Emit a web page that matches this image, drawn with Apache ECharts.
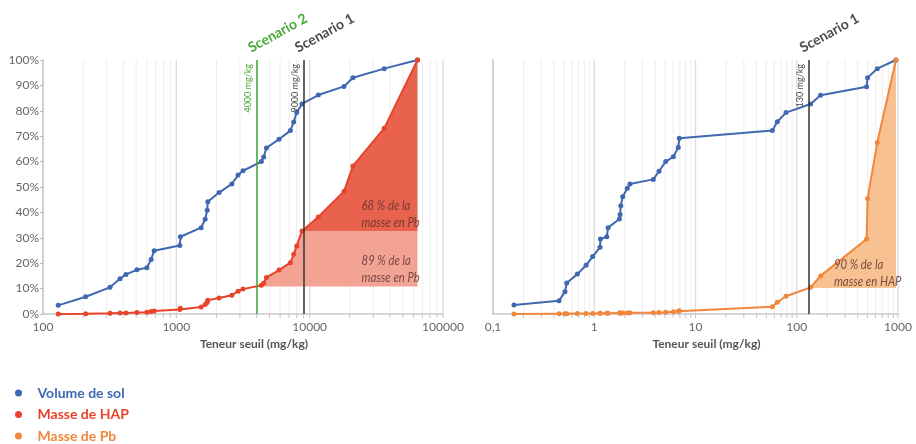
<!DOCTYPE html>
<html><head><meta charset="utf-8">
<script src="https://cdn.jsdelivr.net/npm/echarts@6/dist/echarts.min.js"></script>
<style>html,body{margin:0;padding:0;background:#fff}#c{width:916px;height:444px}</style>
</head><body><div id="c"></div>
<script>
// ---- Data ----
// Left chart: threshold (mg/kg) vs cumulative share
const leftX   = [130,209,318,378,419,506,601,647,682,1062,1073,1535,1645,1703,1722,2093,2608,2905,3165,4343,4520,4740,5893,7167,7590,7995,8756,11610,18080,21110,36200,64400];
const leftVol = [3.4,6.8,10.5,13.9,15.6,17.4,18.2,21.5,24.9,27.0,30.4,34.0,37.3,40.8,44.2,47.8,51.2,54.7,56.4,60.0,61.8,65.4,68.8,72.2,75.6,79.3,82.7,86.2,89.6,93.0,96.6,100];
const leftHap = [0,0.1,0.3,0.4,0.4,0.6,0.7,1.0,1.2,1.8,2.3,2.8,3.7,4.5,5.4,6.3,7.4,9.0,9.8,11.3,12.1,14.4,17.3,20.2,23.5,26.8,32.7,38.2,48.2,58.3,73.1,100];
// Right chart
const rightX   = [0.161,0.449,0.514,0.535,0.681,0.830,0.966,1.14,1.15,1.33,1.37,1.77,1.80,1.83,1.91,2.12,2.25,3.83,4.36,5.08,6.04,6.76,6.92,57.4,64.3,78.3,137,172,490,501,624,955];
const rightVol = [3.5,5.2,8.8,12.2,15.7,19.2,22.6,26.3,29.5,30.4,34.0,37.4,39.2,42.6,46.2,49.5,51.2,53.0,56.2,60.0,61.9,65.6,69.2,72.2,75.7,79.3,82.7,86.1,89.5,93.0,96.6,100];
const rightPb  = [0,0.1,0.1,0.1,0.2,0.2,0.2,0.3,0.3,0.3,0.3,0.4,0.4,0.4,0.4,0.4,0.5,0.5,0.6,0.7,0.9,1.1,1.3,2.9,4.6,7.0,10.5,15.0,29.5,45.5,67.5,100];

// Scenario thresholds and levels at which the shaded regions start
const scenariosLeft  = [{v:4000, tag:'4000 mg/kg', title:'Scenario 2', line:'#3aa53a', text:'#47a934'},
                        {v:9000, tag:'9000 mg/kg', title:'Scenario 1', line:'#333333', text:'#4a4a4a'}];
const scenariosRight = [{v:130,  tag:'130 mg/kg',  title:'Scenario 1', line:'#333333', text:'#4a4a4a'}];
const hapLevelS2 = 10.8, hapLevelS1 = 32.7, pbLevelS1 = 10.2;

const annotations = [
  {grid:0, x:24500, y:39.4, text:'68 % de la\nmasse en Pb'},
  {grid:0, x:24500, y:17.6, text:'89 % de la\nmasse en Pb'},
  {grid:1, x:233,   y:16.2, text:'90 % de la\nmasse en HAP'}
];

const leftTicks  = [100,1000,10000,100000];
const rightTicks = [0.1,1,10,100,1000];

const BLUE='#3f68b1', RED='#e8432b', ORANGE='#f0873c';
const DARKFILL='#e9624e', LIGHTFILL='#f3a394', ORANGEFILL='#f7c192';
const FONT='Lato, "Open Sans", sans-serif';

// ---- helpers ----
const zip = (xs, ys) => xs.map((x,i)=>[x, ys[i]]);
function gridValues(decades){
  const out=[];
  decades.forEach((d,i)=>{
    if(i>0) out.push([d,1]);
    if(i<decades.length-1) for(let m=2;m<=9;m++) out.push([d*m,0]);
  });
  return out;
}
const leftPts  = zip(leftX, leftHap);
const rightPts = zip(rightX, rightPb);
const lightArea = [[scenariosLeft[0].v, hapLevelS2]].concat(leftPts.filter(p=>p[0]>scenariosLeft[0].v && p[1]<=hapLevelS1)).concat([[leftX[leftX.length-1], hapLevelS1]]);
const darkArea  = leftPts.filter(p=>p[1]>=hapLevelS1);
const orangeArea = [[scenariosRight[0].v, pbLevelS1]].concat(rightPts.filter(p=>p[0]>scenariosRight[0].v));

function gridSeries(idx, decades){
  return {
    type:'custom', name:'grid'+idx, xAxisIndex:idx, yAxisIndex:idx, silent:true, z:0,
    data: gridValues(decades), encode:{x:0},
    renderItem:(params, api)=>{
      const v=api.value(0), major=api.value(1);
      const t=api.coord([v,100]), b=api.coord([v,0]);
      return {type:'group', children:[
        {type:'line', shape:{x1:t[0],y1:t[1],x2:b[0],y2:b[1]}, style:{stroke: major?'#dcdcdc':'#ededed', lineWidth: major?1.3:1}},
        {type:'line', shape:{x1:b[0],y1:b[1],x2:b[0],y2:b[1]+4}, style:{stroke:'#c4c4c4', lineWidth:1}}
      ]};
    }
  };
}
function markLines(list){
  return {
    symbol:'none', silent:true,
    data: list.map(s=>({xAxis:s.v, lineStyle:{color:s.line, width:1.5, type:'solid'},
      label:{show:true, formatter:s.tag, position:'insideEndTop', color:s.text, fontSize:9, fontFamily:FONT, distance:4}}))
  };
}
function lineSeries(name, data, color, idx, extra){
  return Object.assign({type:'line', name, data, xAxisIndex:idx, yAxisIndex:idx, z:3,
    symbol:'circle', symbolSize:5, showSymbol:true,
    lineStyle:{color, width:2}, itemStyle:{color}}, extra||{});
}
function areaSeries(name, data, color, origin, idx){
  return {type:'line', name, data, xAxisIndex:idx, yAxisIndex:idx, z:1, silent:true,
    symbol:'none', lineStyle:{width:0, opacity:0}, areaStyle:{color, opacity:1, origin}};
}
const fmtX = v => (v<1 ? String(+v.toPrecision(3)).replace('.',',') : String(Math.round(v)));

function xAxis(idx, min, max){
  return {type:'log', logBase:10, gridIndex:idx, min, max,
    name:'Teneur seuil (mg/kg)', nameLocation:'middle', nameGap:23,
    nameTextStyle:{fontFamily:FONT, fontWeight:'bold', fontSize:12, color:'#555', padding:[0,0,0,22]},
    axisLine:{show:true, lineStyle:{color:'#c8c8c8', width:1.5}},
    axisTick:{show:false}, splitLine:{show:false},
    axisLabel:{formatter:fmtX, color:'#666', fontSize:12, fontFamily:FONT, margin:7}};
}
function yAxis(idx, labels){
  return {type:'value', gridIndex:idx, min:0, max:100, interval:10,
    axisLine:{show:true, lineStyle:{color:'#cfcfcf', width:2}},
    axisTick:{show:labels, length:3, lineStyle:{color:'#bbb'}},
    splitLine:{show:false},
    axisLabel:{show:labels, formatter:'{value}%', color:'#666', fontSize:12, fontFamily:FONT, margin:4}};
}

const chart = echarts.init(document.getElementById('c'), null, {renderer:'canvas'});
chart.setOption({
  backgroundColor:'#fff',
  animation:false,
  textStyle:{fontFamily:FONT},
  grid:[{left:43, top:60, width:400, height:254}, {left:493, top:60, width:405, height:254}],
  xAxis:[xAxis(0, leftTicks[0], leftTicks[leftTicks.length-1]), xAxis(1, rightTicks[0], rightTicks[rightTicks.length-1])],
  yAxis:[yAxis(0,true), yAxis(1,false)],
  legend:{orient:'vertical', left:15, top:386, height:90, width:200, padding:0, icon:'circle', itemWidth:28, itemHeight:7, itemGap:7.5,
    textStyle:{fontFamily:FONT, fontWeight:'bold', fontSize:14, lineHeight:13},
    data:[{name:'Volume de sol', textStyle:{color:BLUE}}, {name:'Masse de HAP', textStyle:{color:RED}}, {name:'Masse de Pb', textStyle:{color:ORANGE}}]},
  series:[
    gridSeries(0, leftTicks), gridSeries(1, rightTicks),
    areaSeries('lightHap', lightArea, LIGHTFILL, hapLevelS2, 0),
    areaSeries('darkHap', darkArea, DARKFILL, hapLevelS1, 0),
    areaSeries('pbArea', orangeArea, ORANGEFILL, pbLevelS1, 1),
    lineSeries('Volume de sol', zip(leftX,leftVol), BLUE, 0, {markLine:markLines(scenariosLeft)}),
    lineSeries('Masse de HAP', leftPts, RED, 0),
    lineSeries('Volume de sol', zip(rightX,rightVol), BLUE, 1, {markLine:markLines(scenariosRight)}),
    lineSeries('Masse de Pb', rightPts, ORANGE, 1)
  ]
});

// annotations placed from data coordinates
const graphics=[];
function addTitles(list, idx){
  list.forEach(s=>{
    const p = chart.convertToPixel({xAxisIndex:idx, yAxisIndex:idx}, [s.v, 100]);
    graphics.push({type:'text', x:p[0]-4, y:p[1]-5, rotation:29*Math.PI/180, silent:true,
      style:{text:s.title, fill:s.text, font:'bold 14px '+FONT, textAlign:'left', textVerticalAlign:'bottom'}});
  });
}
addTitles(scenariosLeft,0); addTitles(scenariosRight,1);
annotations.forEach(a=>{
  const p = chart.convertToPixel({xAxisIndex:a.grid, yAxisIndex:a.grid}, [a.x, a.y]);
  graphics.push({type:'text', x:p[0], y:p[1], scaleX:0.84, silent:true, z:10,
    style:{text:a.text, fill:'rgba(90,50,45,0.82)', font:'italic 13.5px Lato, sans-serif', lineHeight:17, textAlign:'left', textVerticalAlign:'middle'}});
});
chart.setOption({graphic:graphics});
</script></body></html>
